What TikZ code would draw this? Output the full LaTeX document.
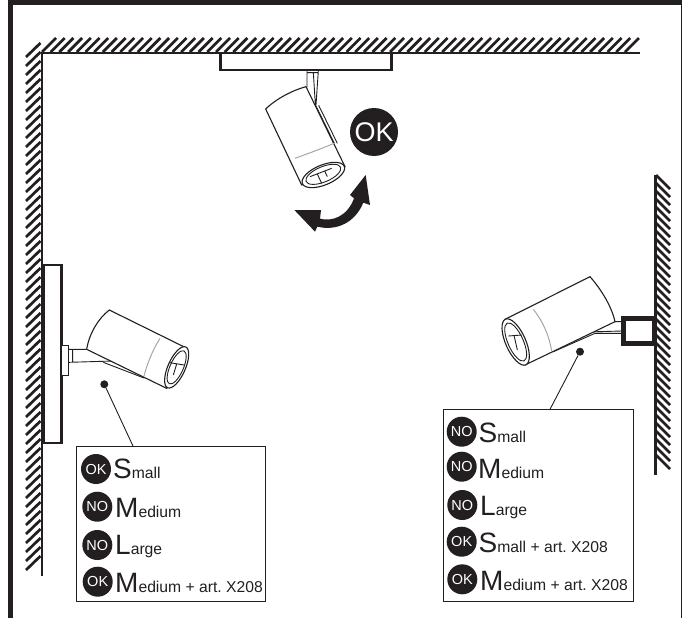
\documentclass[tikz,border=0pt]{standalone}
\usepackage{fontspec}
\setmainfont{Liberation Sans}
\frenchspacing
\definecolor{ink}{HTML}{231F20}
\tikzset{
  hatchline/.style={ink,line width=2.7pt},
  wall/.style={ink,line width=2.4pt},
  plate/.style={ink,line width=2.6pt,fill=white},
  lampline/.style={ink,line width=0.9pt},
  lampbody/.style={ink,line width=1.1pt,fill=white},
  lampband/.style={gray!70,line width=1pt},
  badge/.style={circle,fill=ink,text=white,inner sep=0pt,minimum size=30pt,font=\fontsize{14.5}{14.5}\selectfont},
  bigbadge/.style={circle,fill=ink,text=white,inner sep=0pt,minimum size=48pt,font=\fontsize{27}{27}\selectfont},
  legendbox/.style={draw=ink,line width=1.1pt,fill=white,inner sep=0pt},
  dotmark/.style={circle,fill=ink,inner sep=0pt,minimum size=8pt},
  leader/.style={ink,line width=0.9pt},
  lbl/.style={anchor=base west,inner sep=0pt,text=ink},
}
\newcommand{\lbltext}[2]{{\fontsize{28}{28}\selectfont #1}{\fontsize{15.7}{16}\selectfont #2}}
\begin{document}
\begin{tikzpicture}[x=1pt,y=-1pt]
\useasboundingbox (0,0) rectangle (684,618);
\fill[white] (0,0) rectangle (684,618);
% frame
\draw[ink,line width=5pt] (10.8,618) -- (10.8,2.8) -- (682,2.8);
\draw[ink,line width=1.5pt] (681.5,2.8) -- (681.5,618);
% ceiling hatch
\foreach \x in {42,50.7,...,628}
  \draw[hatchline] (\x,52) -- (\x+14,38);
% left wall hatch
\foreach \y in {43,52,...,562}
  \draw[hatchline] (26,\y+14) -- (40.5,\y);
% right wall hatch
\foreach \y in {175,183,...,462}
  \draw[hatchline] (656,\y) -- (670,\y+14);
\draw[wall] (640,53) -- (41.8,53) -- (41.8,576);
\draw[wall] (655.5,175) -- (655.5,475);
% plates
\draw[plate] (220.5,53) rectangle (391.5,70);
\draw[plate] (44,265) rectangle (61.5,443);
\draw[ink,line width=4.6pt,fill=white] (623.3,318.3) rectangle (654.5,343.7);
% ceiling lamp
\begin{scope}[shift={(200,30)},scale=1/3]
  \draw[lampline] (321,122) -- (321,172) (355,122) -- (348,225) (340,128) -- (346,222) (321,128) -- (355,128);
  \draw[lampline] (345,222) -- (403,340) (356,226) -- (412,340);
  \fill[ink] (350,240) circle (5);
  \draw[lampbody] (197,237) .. controls (230,205) and (280,180) .. (318,170) -- (435,410) -- (305,465) -- cycle;
  \draw[lampband] (285,385) .. controls (320,372) and (360,358) .. (402,340);
  \draw[lampbody] (370,435) ellipse [x radius=68,y radius=30,rotate=22.5];
  \draw[lampline] (370,433) ellipse [x radius=56,y radius=23,rotate=22.5];
  \draw[lampline] (330,440) -- (395,415) (352,432) -- (365,460) (375,425) -- (382,440);
\end{scope}
% arrow
\begin{scope}[shift={(200,30)},scale=1/3]
  \fill[ink] (283,540) -- (363,540) -- (360,566) .. controls (395,576) and (442,560) .. (462,505)
    -- (450,495) -- (497,435) -- (510,525) -- (490,518)
    .. controls (465,578) and (410,604) .. (352,590) -- (345,605) -- cycle;
\end{scope}
\node[bigbadge] (okbig) at (374,132) {OK};
% left lamp
\begin{scope}[shift={(0,250)},scale=1/3]
  \draw[lampline,fill=white] (185,287) rectangle (206,375);
  \draw[lampline] (206,298) -- (260,298) (206,337) -- (340,333) (218,298) -- (218,337);
  \draw[lampline] (310,337) -- (432,384) (340,333) -- (432,376);
  \draw[lampbody] (260,298) .. controls (268,250) and (295,205) .. (328,180) -- (555,292) -- (500,415) -- cycle;
  \draw[lampband] (480,265) .. controls (458,300) and (442,340) .. (432,378);
  \draw[lampbody] (530,352) ellipse [x radius=67,y radius=26,rotate=66];
  \draw[lampline] (530,352) ellipse [x radius=54,y radius=20,rotate=66];
  \draw[lampline] (510,338) -- (552,345) (530,342) -- (520,375);
\end{scope}
% right lamp
\begin{scope}[shift={(480,270)},scale=1/3]
  \draw[lampline] (405,155) -- (425,155) (425,190) -- (345,190) -- (218,246) (425,183) -- (320,186) -- (218,236);
  \draw[lampbody] (330,20) .. controls (365,60) and (395,110) .. (405,155) -- (135,285) -- (75,148) -- cycle;
  \draw[lampband] (160,118) .. controls (190,155) and (208,200) .. (215,243);
  \draw[lampbody] (107,216) ellipse [x radius=75,y radius=30,rotate=-66];
  \draw[lampline] (107,216) ellipse [x radius=62,y radius=23,rotate=-66];
  \draw[lampline] (85,198) -- (125,195) (102,196) -- (112,240);
\end{scope}
% left legend
\node[legendbox,minimum width=189pt,minimum height=154.3pt] (boxL) at (171.2,523.9) {};
\node[dotmark] (dotL) at (104.3,384.3) {};
\coordinate (endL) at (133.3,446.7);
\draw[leader] (dotL) -- (endL);
\node[badge] (l1) at (96,469) {OK};
\node[badge] (l2) at (97.3,506.7) {NO};
\node[badge] (l3) at (97.3,545) {NO};
\node[badge] (l4) at (97.7,581.7) {OK};
\node[lbl] (lt1) at (113,478.3) {\lbltext{S}{mall}};
\node[lbl] (lt2) at (115,517.7) {\lbltext{M}{edium}};
\node[lbl] (lt3) at (115,554.3) {\lbltext{L}{arge}};
\node[lbl] (lt4) at (115,592.7) {\lbltext{M}{edium + art. X208}};
% right legend
\node[legendbox,minimum width=190pt,minimum height=191.7pt] (boxR) at (538.3,505.2) {};
\node[dotmark] (dotR) at (580,351.7) {};
\coordinate (endR) at (550,409.3);
\draw[leader] (dotR) -- (endR);
\node[badge] (r1) at (461.7,431.7) {NO};
\node[badge] (r2) at (461.7,466.7) {NO};
\node[badge] (r3) at (462.3,505) {NO};
\node[badge] (r4) at (461.7,541.7) {OK};
\node[badge] (r5) at (462.3,579.3) {OK};
\node[lbl] (rt1) at (478.5,442.3) {\lbltext{S}{mall}};
\node[lbl] (rt2) at (478,478.3) {\lbltext{M}{edium}};
\node[lbl] (rt3) at (480,515) {\lbltext{L}{arge}};
\node[lbl] (rt4) at (478.5,552.3) {\lbltext{S}{mall + art. X208}};
\node[lbl] (rt5) at (480,590) {\lbltext{M}{edium + art. X208}};
\end{tikzpicture}
\end{document}
